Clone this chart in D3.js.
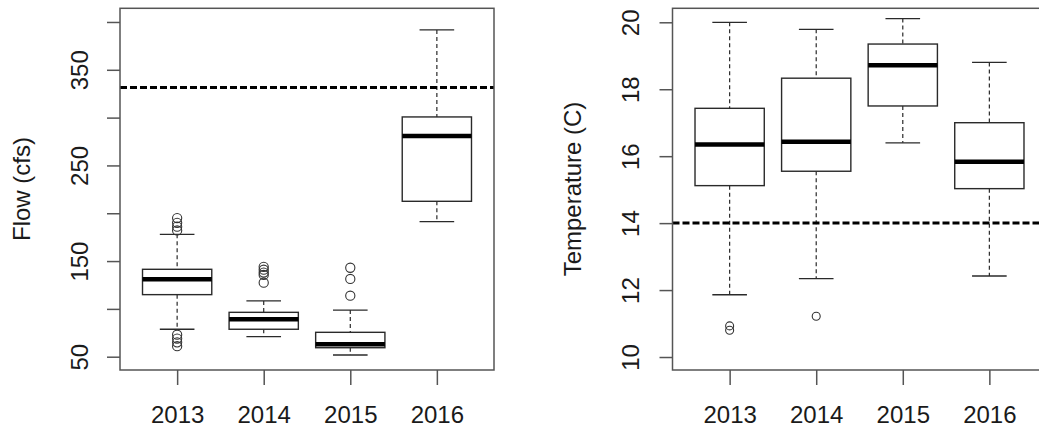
<!DOCTYPE html>
<html><head><meta charset="utf-8">
<script src="https://cdn.jsdelivr.net/npm/d3@7"></script>
<style>body{margin:0;background:#fff}svg{display:block}text{font-family:"Liberation Sans",Arial,sans-serif;fill:#1a1a1a}</style>
</head><body><svg id="c" width="1039" height="433"></svg>
<script>
const years = ["2013","2014","2015","2016"];
// Flow (cfs) box stats
const flowLowWhisker = [78.7, 70.9, 51.8, 191.2];
const flowQ1 = [114.9, 78.7, 59.4, 212.5];
const flowMedian = [131, 89.1, 63, 280.9];
const flowQ3 = [141.4, 96.4, 75.5, 300.7];
const flowHighWhisker = [178, 108.3, 98.8, 391.7];
const flowOutliers = [
  [195, 190, 186, 182, 73, 69, 65, 61],
  [144, 141, 138, 135.5, 127.4],
  [143, 131.3, 113.8],
  []
];
const flowThreshold = 331.4;
const flowTicks = [50, 100, 150, 200, 250, 300, 350, 400];
const flowTickLabels = ["50", "", "150", "", "250", "", "350", ""];
// Temperature (C) box stats
const tempLowWhisker = [11.86, 12.34, 16.4, 12.42];
const tempQ1 = [15.12, 15.55, 17.5, 15.03];
const tempMedian = [16.35, 16.43, 18.72, 15.83];
const tempQ3 = [17.43, 18.33, 19.35, 17.0];
const tempHighWhisker = [20.0, 19.79, 20.11, 18.8];
const tempOutliers = [[10.93, 10.8], [11.22], [], []];
const tempThreshold = 14;
const tempTicks = [10, 12, 14, 16, 18, 20];
const tempTickLabels = ["10", "12", "14", "16", "18", "20"];

const svg = d3.select("#c");

function panel(cfg) {
  const g = svg.append("g");
  const x = d3.scalePoint().domain(years).range([cfg.left, cfg.left + 374]).padding(0.66);
  const y = d3.scaleLinear().domain(cfg.domain).range([370, 8.3]);
  const bw = x.step() * 0.8, cw = x.step() * 0.4;
  const boxStroke = "#2a2a2a";

  years.forEach((yr, i) => {
    const cx = x(yr);
    g.append("line").attr("x1", cx).attr("x2", cx).attr("y1", y(cfg.hi[i])).attr("y2", y(cfg.q3[i]))
      .attr("stroke", boxStroke).attr("stroke-width", 1.2).attr("stroke-dasharray", "4,3");
    g.append("line").attr("x1", cx).attr("x2", cx).attr("y1", y(cfg.q1[i])).attr("y2", y(cfg.lo[i]))
      .attr("stroke", boxStroke).attr("stroke-width", 1.2).attr("stroke-dasharray", "4,3");
    [cfg.hi[i], cfg.lo[i]].forEach(v => {
      g.append("line").attr("x1", cx - cw / 2).attr("x2", cx + cw / 2).attr("y1", y(v)).attr("y2", y(v))
        .attr("stroke", boxStroke).attr("stroke-width", 1.3);
    });
    g.append("rect").attr("x", cx - bw / 2).attr("width", bw)
      .attr("y", y(cfg.q3[i])).attr("height", y(cfg.q1[i]) - y(cfg.q3[i]))
      .attr("fill", "#fff").attr("stroke", boxStroke).attr("stroke-width", 1.4);
    g.append("line").attr("x1", cx - bw / 2).attr("x2", cx + bw / 2).attr("y1", y(cfg.med[i])).attr("y2", y(cfg.med[i]))
      .attr("stroke", "#000").attr("stroke-width", 4.5);
    cfg.out[i].forEach(v => {
      g.append("circle").attr("cx", cx).attr("cy", y(v)).attr("r", cfg.r)
        .attr("fill", "none").attr("stroke", "#333").attr("stroke-width", 1.1);
    });
  });

  g.append("line").attr("x1", cfg.left).attr("x2", cfg.left + 374).attr("y1", y(cfg.thr)).attr("y2", y(cfg.thr))
    .attr("stroke", "#000").attr("stroke-width", 3).attr("stroke-dasharray", "7,3");

  g.append("rect").attr("x", cfg.left).attr("y", 8.3).attr("width", 374).attr("height", 370 - 8.3)
    .attr("fill", "none").attr("stroke", "#555").attr("stroke-width", 1.5);

  const ya = d3.axisLeft(y).tickValues(cfg.ticks).tickSize(13).tickPadding(0)
    .tickFormat((d, i) => cfg.tickLabels[i]);
  const yg = g.append("g").attr("transform", `translate(${cfg.left},0)`).call(ya);
  yg.select(".domain").remove();
  yg.selectAll(".tick line").attr("stroke", "#555").attr("stroke-width", 1.5);
  yg.selectAll(".tick text")
    .each(function () {
      d3.select(this).attr("x", null).attr("dy", null)
        .attr("transform", `translate(${cfg.labelOff},0) rotate(-90)`)
        .attr("text-anchor", "middle").attr("y", 0)
        .style("font-size", "24px").style("font-family", '"Liberation Sans",Arial,sans-serif').attr("fill", "#1a1a1a");
    });

  const xa = d3.axisBottom(x).tickSize(15).tickPadding(0);
  const xg = g.append("g").attr("transform", `translate(0,370)`).call(xa);
  xg.select(".domain").remove();
  xg.selectAll(".tick line").attr("stroke", "#555").attr("stroke-width", 1.5);
  xg.selectAll(".tick text").attr("y", 53).attr("dy", null)
    .style("font-size", "24px").style("font-family", '"Liberation Sans",Arial,sans-serif').attr("fill", "#1a1a1a");

  g.append("text").attr("transform", `translate(${cfg.titleX},189) rotate(-90)`)
    .attr("text-anchor", "middle").style("font-size", "24px").text(cfg.title);
}

panel({left: 120, domain: [36.1, 414.3], lo: flowLowWhisker, q1: flowQ1, med: flowMedian, q3: flowQ3,
  hi: flowHighWhisker, out: flowOutliers, thr: flowThreshold, ticks: flowTicks, tickLabels: flowTickLabels,
  title: "Flow (cfs)", titleX: 30, r: 4.6, labelOff: -32.5});
panel({left: 672.5, domain: [9.612, 20.418], lo: tempLowWhisker, q1: tempQ1, med: tempMedian, q3: tempQ3,
  hi: tempHighWhisker, out: tempOutliers, thr: tempThreshold, ticks: tempTicks, tickLabels: tempTickLabels,
  title: "Temperature (C)", titleX: 581, r: 4, labelOff: -34});
</script></body></html>
